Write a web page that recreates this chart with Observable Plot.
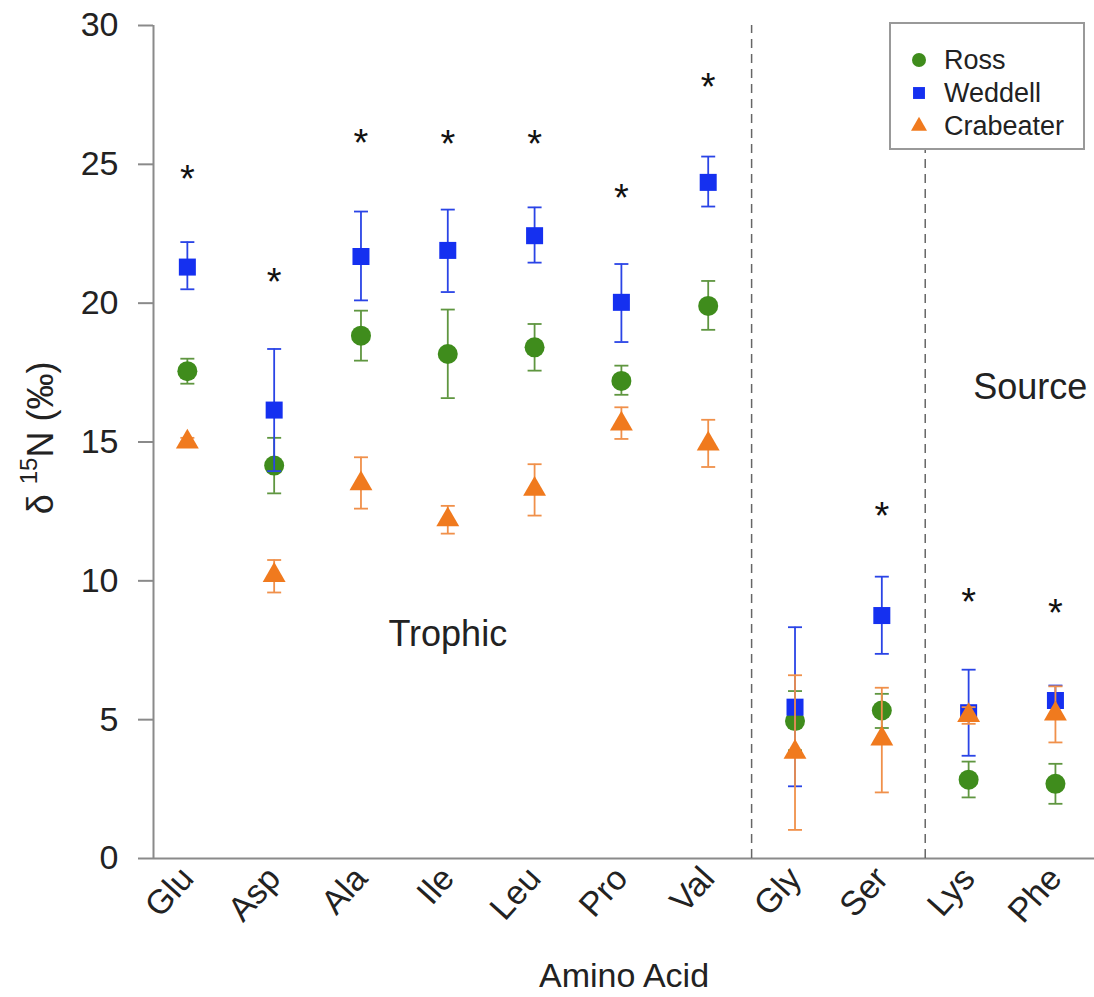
<!DOCTYPE html>
<html>
<head>
<meta charset="utf-8">
<script src="https://cdn.jsdelivr.net/npm/d3@7"></script>
<script src="https://cdn.jsdelivr.net/npm/@observablehq/plot@0.6"></script>
<style>
  html, body { margin: 0; padding: 0; background: #fff; }
  #chart { font-family: "Liberation Sans", Arial, sans-serif; }
</style>
</head>
<body>
<div id="chart"></div>
<script>
// ---- data ----
const aminoAcids = ["Glu", "Asp", "Ala", "Ile", "Leu", "Pro", "Val", "Gly", "Ser", "Lys", "Phe"];

const rossMean  = [17.55, 14.15, 18.83, 18.17, 18.41, 17.20, 19.90, 4.95, 5.33, 2.84, 2.69];
const rossLow   = [17.10, 13.15, 17.93, 16.58, 17.57, 16.70, 19.04, 3.90, 4.70, 2.20, 1.97];
const rossHigh  = [18.00, 15.15, 19.73, 19.77, 19.25, 17.75, 20.80, 6.03, 5.93, 3.49, 3.41];

const weddellMean = [21.30, 16.15, 21.68, 21.90, 22.43, 20.03, 24.35, 5.45, 8.75, 5.25, 5.69];
const weddellLow  = [20.50, 13.95, 20.10, 20.40, 21.46, 18.60, 23.48, 2.60, 7.37, 3.70, 5.15];
const weddellHigh = [22.20, 18.35, 23.30, 23.37, 23.45, 21.41, 25.28, 8.33, 10.15, 6.80, 6.23];

const crabMean = [15.00, 10.20, 13.50, 12.20, 13.30, 15.65, 14.93, 3.83, 4.31, 5.15, 5.21];
const crabLow  = [14.85,  9.58, 12.60, 11.70, 12.35, 15.11, 14.10, 1.03, 2.38, 4.85, 4.18];
const crabHigh = [15.15, 10.75, 14.45, 12.70, 14.20, 16.25, 15.80, 6.60, 6.15, 5.45, 6.20];

const starValues = [24.7, 21.0, 26.0, 25.95, 25.95, 24.0, 28.0, null, 12.55, 9.45, 9.07];

const groupDividers = [7.5, 9.5];
const groupLabels = ["Trophic", "Source"];
const groupLabelX = [4.0, 10.71];
const groupLabelY = [7.67, 16.56];

const seriesNames = ["Ross", "Weddell", "Crabeater"];
const yTicks = [0, 5, 10, 15, 20, 25, 30];
const xDomain = [0.61, 11.45];
const yDomain = [0, 30];

// ---- styles ----
const colors = { Ross: "#3f8c1c", Weddell: "#1530f0", Crabeater: "#f07a1e" };
const barColors = { Ross: "#5f9640", Weddell: "#2a44e6", Crabeater: "#f0904a" };
const symbols = { Ross: "circle", Weddell: "square", Crabeater: "triangle" };
const symbolR = { Ross: 10, Weddell: 9.6, Crabeater: 8.5 };

// ---- build tables ----
function table(mean, low, high) {
  return aminoAcids.map((a, k) => ({ acid: a, i: k + 1, mean: mean[k], lo: low[k], hi: high[k] }));
}
const series = {
  Ross: table(rossMean, rossLow, rossHigh),
  Weddell: table(weddellMean, weddellLow, weddellHigh),
  Crabeater: table(crabMean, crabLow, crabHigh)
};
const stars = aminoAcids.map((a, k) => ({ i: k + 1, y: starValues[k] })).filter(d => d.y != null);
const labels = groupLabels.map((t, k) => ({ text: t, x: groupLabelX[k], y: groupLabelY[k] }));

// horizontal cap symbol for error bars
const capSymbol = {
  draw(ctx, size) {
    const r = Math.sqrt(size / Math.PI);
    ctx.moveTo(-r, 0);
    ctx.lineTo(r, 0);
  }
};

const marks = [];
marks.push(Plot.ruleY([yDomain[0]], { stroke: "#8a8a8a", strokeWidth: 2 }));
marks.push(Plot.ruleX([xDomain[0]], { y1: yDomain[0], y2: yDomain[1], stroke: "#8a8a8a", strokeWidth: 2 }));
marks.push(Plot.ruleX(groupDividers, { y1: yDomain[0], y2: yDomain[1], stroke: "#666", strokeWidth: 1.5, strokeDasharray: "9,6" }));

for (const name of seriesNames) {
  const data = series[name];
  marks.push(Plot.ruleX(data, { x: "i", y1: "lo", y2: "hi", stroke: barColors[name], strokeWidth: 1.8 }));
  marks.push(Plot.dot(data, { x: "i", y: "lo", symbol: capSymbol, r: 7, stroke: barColors[name], strokeWidth: 1.8, fill: "none" }));
  marks.push(Plot.dot(data, { x: "i", y: "hi", symbol: capSymbol, r: 7, stroke: barColors[name], strokeWidth: 1.8, fill: "none" }));
  marks.push(Plot.dot(data, { x: "i", y: "mean", symbol: symbols[name], r: symbolR[name], fill: colors[name], stroke: "none" }));
}

marks.push(Plot.text(stars, { x: "i", y: "y", text: () => "*", fontSize: 38, dy: 7, fill: "#111" }));
marks.push(Plot.text(labels, { x: "x", y: "y", text: "text", fontSize: 36, lineAnchor: "bottom", fill: "#222" }));

marks.push(Plot.axisY({ ticks: yTicks, tickSize: 15, tickPadding: 20, fontSize: 34, label: null, stroke: "#8a8a8a", strokeWidth: 2, color: "#222" }));
marks.push(Plot.axisX({
  ticks: d3.range(1, aminoAcids.length + 1),
  tickFormat: i => aminoAcids[i - 1],
  tickSize: 0, tickPadding: 14, tickRotate: -48, fontSize: 34,
  label: "Amino Acid", labelAnchor: "center", labelOffset: 128, labelArrow: "none"
}));

const plot = Plot.plot({
  width: 1094,
  height: 997,
  marginLeft: 153,
  marginRight: 0,
  marginTop: 25,
  marginBottom: 139,
  style: { fontFamily: "Liberation Sans, Arial, sans-serif", background: "#fff", color: "#222", overflow: "visible" },
  x: { type: "linear", domain: xDomain },
  y: { domain: yDomain },
  marks
});

document.getElementById("chart").appendChild(plot);

// ---- y axis title with superscript ----
const svg = d3.select(plot);
const yt = svg.append("text")
  .attr("transform", "translate(53,438) rotate(-90)")
  .attr("text-anchor", "middle")
  .attr("font-size", 36)
  .attr("fill", "#222")
  .attr("font-family", "Liberation Sans, Arial, sans-serif");
yt.append("tspan").text("δ ");
yt.append("tspan").attr("font-size", 24).attr("dy", -16).text("15");
yt.append("tspan").attr("dy", 16).text("N (‰)");

// ---- legend ----
const lg = svg.append("g")
  .attr("font-family", "Liberation Sans, Arial, sans-serif")
  .attr("text-anchor", "start");
lg.append("rect").attr("x", 890).attr("y", 23).attr("width", 194).attr("height", 126)
  .attr("fill", "#fff").attr("stroke", "#999").attr("stroke-width", 2);
seriesNames.forEach((name, k) => {
  const cy = 60 + k * 33;
  const size = Math.PI * Math.pow(symbolR[name] * 0.7, 2);
  const symType = name === "Ross" ? d3.symbolCircle : name === "Weddell" ? d3.symbolSquare : d3.symbolTriangle;
  lg.append("path").attr("transform", `translate(919,${cy})`)
    .attr("d", d3.symbol(symType, size)()).attr("fill", colors[name]);
  lg.append("text").attr("x", 944).attr("y", cy).attr("dy", "0.35em")
    .attr("text-anchor", "start")
    .attr("font-size", 27).attr("fill", "#222").text(name);
});
</script>
</body>
</html>
